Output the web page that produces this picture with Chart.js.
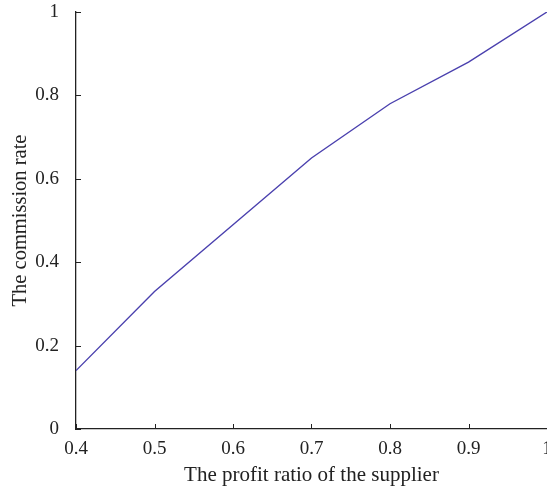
<!DOCTYPE html>
<html>
<head>
<meta charset="utf-8">
<title>Commission rate</title>
<script src="https://cdn.jsdelivr.net/npm/chart.js@4/dist/chart.umd.min.js"></script>
<style>
  html, body { margin: 0; padding: 0; background: #fff; overflow: hidden; }
  #wrap { width: 560px; height: 490px; }
</style>
</head>
<body>
<div id="wrap"><canvas id="rateChart"></canvas></div>
<script>
// values
var profitRatio = [0.4, 0.5, 0.6, 0.7, 0.8, 0.9, 1.0];
var commissionRate = [0.14, 0.33, 0.49, 0.65, 0.78, 0.88, 1.0];
var xTicks = [0.4, 0.5, 0.6, 0.7, 0.8, 0.9, 1];
var yTicks = [0, 0.2, 0.4, 0.6, 0.8, 1];

var points = profitRatio.map(function (x, i) { return { x: x, y: commissionRate[i] }; });

var fontFam = '"Liberation Serif", "DejaVu Serif", serif';

// short tick marks drawn inside the axes
var innerTicks = {
  id: 'innerTicks',
  afterDraw: function (chart) {
    var c = chart.ctx, xs = chart.scales.x, ys = chart.scales.y;
    c.save();
    c.strokeStyle = '#222';
    c.lineWidth = 1;
    c.beginPath();
    xTicks.forEach(function (v) {
      var px = Math.round(xs.getPixelForValue(v)) + 0.5;
      c.moveTo(px, ys.bottom);
      c.lineTo(px, ys.bottom - 5);
    });
    yTicks.forEach(function (v) {
      var py = Math.round(ys.getPixelForValue(v)) + 0.5;
      c.moveTo(xs.left, py);
      c.lineTo(xs.left + 5, py);
    });
    c.stroke();
    c.restore();
  }
};

new Chart(document.getElementById('rateChart'), {
  type: 'line',
  data: {
    datasets: [{
      data: points,
      borderColor: '#4a40ae',
      borderWidth: 1.4,
      pointRadius: 0,
      tension: 0,
      fill: false
    }]
  },
  options: {
    responsive: true,
    maintainAspectRatio: false,
    animation: false,
    layout: { padding: { top: 12, right: 13, left: 0, bottom: 0 } },
    plugins: { legend: { display: false }, tooltip: { enabled: false } },
    scales: {
      x: {
        type: 'linear',
        min: 0.4,
        max: 1,
        afterBuildTicks: function (s) { s.ticks = xTicks.map(function (v) { return { value: v }; }); },
        afterFit: function (s) { s.height = 61; },
        grid: { display: false },
        border: { display: true, color: '#222', width: 1.3 },
        ticks: {
          color: '#222',
          padding: 1,
          maxRotation: 0,
          font: { family: fontFam, size: 19 },
          callback: function (v) { return String(+v.toFixed(1)); }
        },
        title: {
          display: true,
          text: 'The profit ratio of the supplier',
          color: '#222',
          font: { family: fontFam, size: 21 },
          padding: { top: 4, bottom: 2 }
        }
      },
      y: {
        min: 0,
        max: 1,
        afterBuildTicks: function (s) { s.ticks = yTicks.map(function (v) { return { value: v }; }); },
        afterFit: function (s) { s.width = 76; },
        grid: { display: false },
        border: { display: true, color: '#222', width: 1.3 },
        ticks: {
          color: '#222',
          padding: 9,
          font: { family: fontFam, size: 19, lineHeight: 0.2 },
          callback: function (v) { return String(+v.toFixed(1)); }
        },
        title: {
          display: true,
          text: 'The commission rate',
          color: '#222',
          font: { family: fontFam, size: 20.5 },
          padding: { top: 8, bottom: 0 }
        }
      }
    }
  },
  plugins: [innerTicks]
});
</script>
</body>
</html>
